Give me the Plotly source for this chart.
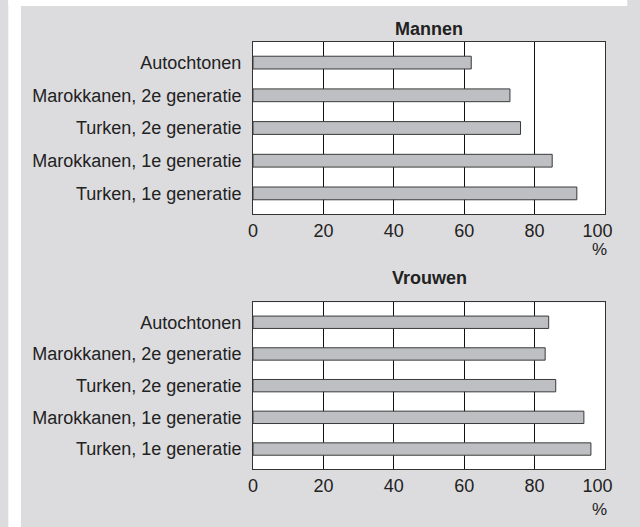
import plotly.graph_objects as go
from plotly.subplots import make_subplots

categories = ["Autochtonen", "Marokkanen, 2e generatie", "Turken, 2e generatie",
              "Marokkanen, 1e generatie", "Turken, 1e generatie"]
mannen = [62, 73, 76, 85, 92]
vrouwen = [84, 83, 86, 94, 96]
panel_titles = ["Mannen", "Vrouwen"]
x_ticks = [0, 20, 40, 60, 80, 100]
x_ticktext = ["0", "20", "40", "60", "80", "100&nbsp;&nbsp;&nbsp;"]

W, H = 640, 527
L, R, T, B = 253, 640 - 617, 42, 527 - 469
PW, PH = W - L - R, H - T - B

def py(ypix):
    return (H - B - ypix) / PH

def px(xpix):
    return (xpix - L) / PW

fig = make_subplots(rows=2, cols=1, vertical_spacing=0.1)

FONT = "Arial, Liberation Sans, sans-serif"
BAR = "#bebfc3"
for i, vals in enumerate([mannen, vrouwen]):
    fig.add_trace(go.Bar(x=vals, y=categories, orientation="h",
                         marker=dict(color=BAR, line=dict(color="#3a3a3a", width=1)),
                         showlegend=False, hoverinfo="skip"), row=i + 1, col=1)

top_dom = [py(214), 1.0]
bot_dom = [0.0, py(302.3)]
axis_common = dict(showline=True, mirror=True, linecolor="#333333", linewidth=1)
fig.update_xaxes(range=[0, 100], tickvals=x_ticks, ticktext=x_ticktext, showgrid=True,
                 gridcolor="#111111", gridwidth=1, zeroline=False,
                 tickfont=dict(size=18, color="#222222"), ticks="", **axis_common)
fig.update_yaxes(categoryorder="array", categoryarray=categories, range=[4.63, -0.63],
                 showgrid=False, tickfont=dict(size=18, color="#222222"),
                 ticks="outside", ticklen=7, tickcolor="rgba(0,0,0,0)", **axis_common)
fig.update_layout(yaxis=dict(domain=top_dom), yaxis2=dict(domain=bot_dom),
                  bargap=0.61)

anns = []
for title, ypos in zip(panel_titles, [29, 278]):
    anns.append(dict(text="<b>" + title + "</b>", x=0.5, y=py(ypos), xref="paper", yref="paper",
                     showarrow=False, font=dict(size=18, color="#222222"),
                     xanchor="center", yanchor="middle"))
for xpos, ypos in [(611, 249), (611, 510)]:
    anns.append(dict(text="%", x=px(xpos), y=py(ypos), xref="paper", yref="paper",
                     showarrow=False, font=dict(size=17, color="#222222"),
                     xanchor="center", yanchor="middle"))

shapes = [
    dict(type="rect", xref="paper", yref="paper", x0=px(0), x1=px(13), y0=py(527), y1=py(0),
         fillcolor="white", line=dict(width=0), layer="below"),
    dict(type="rect", xref="paper", yref="paper", x0=px(0), x1=px(640), y0=py(6), y1=py(0),
         fillcolor="white", line=dict(width=0), layer="below"),
]

fig.update_layout(width=W, height=H, margin=dict(l=L, r=R, t=T, b=B),
                  paper_bgcolor="#dcdcde", plot_bgcolor="white",
                  font=dict(family=FONT, color="#222222"),
                  annotations=anns, shapes=shapes, hovermode=False)

fig.write_html("out.html", config={"displayModeBar": False, "staticPlot": True},
               post_script="document.body.style.margin='0';")
